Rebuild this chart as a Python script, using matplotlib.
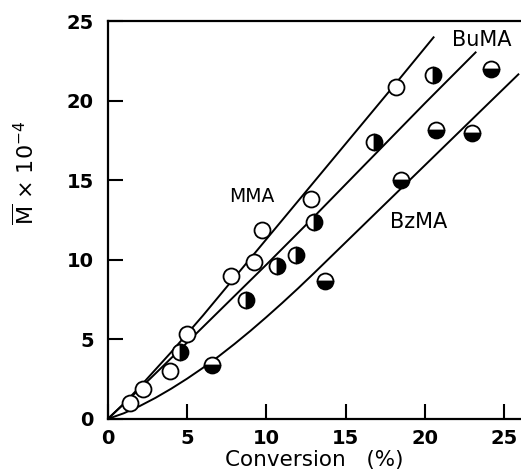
import matplotlib
matplotlib.use('Agg')
import matplotlib.pyplot as plt

mma_x = [1.4, 2.2, 3.9, 5.0, 7.8, 9.2, 9.7, 12.8, 18.2]
mma_y = [1.0, 1.85, 3.0, 5.35, 9.0, 9.85, 11.85, 13.8, 20.9]

buma_x = [4.55, 8.7, 10.7, 11.9, 13.0, 16.8, 20.5]
buma_y = [4.2, 7.5, 9.6, 10.3, 12.4, 17.4, 21.6]

bzma_x = [6.6, 13.7, 18.5, 20.7, 23.0, 24.2]
bzma_y = [3.4, 8.7, 15.0, 18.2, 18.0, 22.0]

# fitted curves, points
mma_fit_x = [0, 1, 2, 3, 4, 5, 6, 7, 8, 10, 12, 15, 18, 20.55]
mma_fit_y = [0, 0.95, 2.0, 3.1, 4.2, 5.35, 6.5, 7.7, 8.9, 11.3, 13.7, 17.3, 20.9, 24.0]

buma_fit_x = [0, 1, 2, 3, 5, 7.5, 10, 12.5, 15, 17.5, 20, 23.2]
buma_fit_y = [0, 0.93, 1.88, 2.85, 4.8, 7.25, 9.7, 12.2, 14.75, 17.3, 19.85, 23.05]

bzma_fit_x = [0, 1, 2, 3, 4, 5, 6, 7, 8, 9, 10, 11, 12, 13, 14,
              16, 18, 20, 22, 24, 25.9]
bzma_fit_y = [0, 0.35, 0.8, 1.32, 1.9, 2.53, 3.21, 3.94, 4.72, 5.54, 6.4,
              7.29, 8.21, 9.16, 10.13, 12.07, 14.01, 15.95, 17.89, 19.83, 21.67]

x_ticks = [0, 5, 10, 15, 20, 25]
y_ticks = [0, 5, 10, 15, 20, 25]

fig = plt.figure(figsize=(5.21, 4.76), dpi=100)
ax = fig.add_axes([0.207, 0.120, 0.791, 0.835])

line_kw = dict(color='black', linewidth=1.4, solid_joinstyle='round')
ax.plot(mma_fit_x, mma_fit_y, **line_kw)
ax.plot(buma_fit_x, buma_fit_y, **line_kw)
ax.plot(bzma_fit_x, bzma_fit_y, **line_kw)

mk = dict(linestyle='none', marker='o', markersize=11.5, markeredgecolor='black',
          markeredgewidth=1.3, zorder=3)
ax.plot(mma_x, mma_y, markerfacecolor='white', **mk)
ax.plot(buma_x, buma_y, fillstyle='right', markerfacecolor='black',
        markerfacecoloralt='white', **mk)
ax.plot(bzma_x, bzma_y, fillstyle='bottom', markerfacecolor='black',
        markerfacecoloralt='white', **mk)

ax.text(9.1, 14.0, 'MMA', fontsize=13.5, ha='center', va='center')
ax.text(23.6, 23.8, 'BuMA', fontsize=15, ha='center', va='center')
ax.text(19.6, 12.4, 'BzMA', fontsize=15, ha='center', va='center')

ax.set_xlim(0, 26)
ax.set_ylim(0, 25)
ax.set_xticks(x_ticks)
ax.set_yticks(y_ticks)
ax.set_xticklabels(x_ticks, fontsize=14, fontweight='bold')
ax.set_yticklabels(y_ticks, fontsize=14, fontweight='bold')
ax.tick_params(direction='in', length=11, width=1.5)
ax.tick_params(axis='x', pad=7)
ax.tick_params(axis='y', pad=10)

ax.spines['right'].set_visible(False)
for s in ['left', 'top', 'bottom']:
    ax.spines[s].set_linewidth(1.6)

ax.set_xlabel('Conversion   (%)', fontsize=15.5)
ax.xaxis.set_label_coords(0.5, -0.078)
ax.set_ylabel(r'$\overline{\mathrm{M}}$ × 10$^{-4}$', fontsize=16)
ax.yaxis.set_label_coords(-0.17, 0.62)

fig.savefig('out.png', dpi=100)
